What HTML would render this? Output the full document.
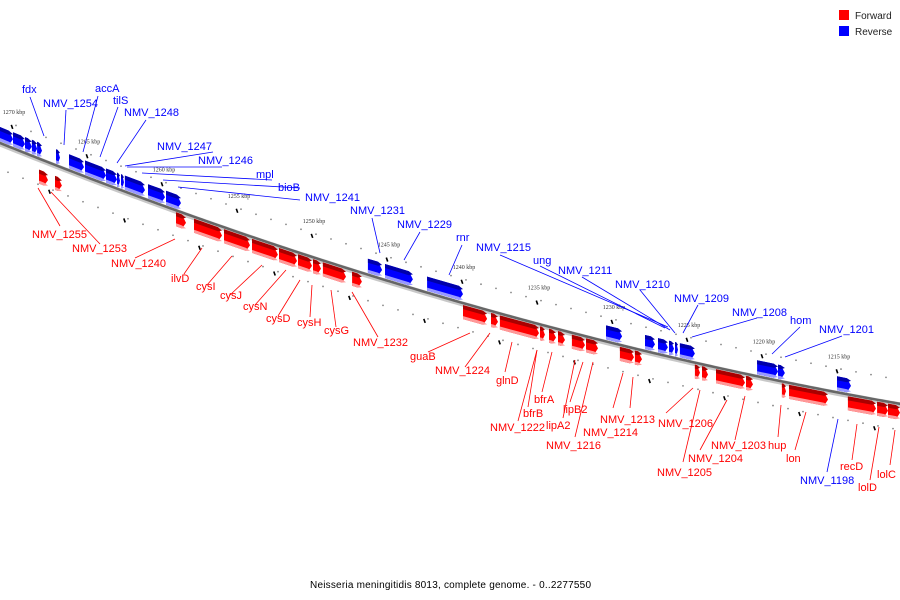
<!DOCTYPE html>
<html><head><meta charset="utf-8"><style>
body{margin:0;background:#fff}
svg{display:block;font-family:"Liberation Sans","DejaVu Sans",sans-serif}
</style></head><body>
<svg id="chart" width="900" height="600" viewBox="0 0 900 600">
<g id="backbone-layer"></g><g id="tick-layer"></g><g id="gene-layer"></g><g id="label-layer"></g>
<g>
<rect x="839" y="10" width="10" height="10" fill="#f00"/>
<text x="855" y="19" font-size="10" fill="#222">Forward</text>
<rect x="839" y="26" width="10" height="10" fill="#00f"/>
<text x="855" y="35" font-size="10" fill="#222">Reverse</text>
</g>
<text x="310" y="588" font-size="10" fill="#000" textLength="281">Neisseria meningitidis 8013, complete genome. - 0..2277550</text>
</svg>
<script>
const geneStart=[1270.80,1269.93,1269.13,1268.67,1268.33,1267.07,1266.20,1265.13,1263.73,1263.00,1262.73,1262.47,1260.93,1259.73,1246.27,1245.13,1242.33,1230.40,1227.80,1226.93,1226.20,1225.80,1225.47,1220.33,1218.93,1215.00,
1268.20,1267.13,1259.07,1257.87,1255.87,1254.00,1252.20,1250.93,1249.93,1249.27,1247.33,1239.93,1238.07,1237.47,1234.80,1234.20,1233.60,1232.67,1231.73,1229.47,1228.47,1224.47,1224.00,1223.07,1221.07,1218.67,1218.20,1214.27,1212.33,1211.60];
const geneEnd=[1269.93,1269.13,1268.67,1268.33,1268.00,1266.80,1265.20,1263.73,1263.00,1262.80,1262.53,1261.13,1259.80,1258.73,1245.33,1243.27,1239.93,1229.33,1227.13,1226.27,1225.87,1225.60,1224.47,1218.93,1218.47,1214.07,
1267.60,1266.67,1258.40,1256.00,1254.13,1252.27,1251.00,1250.00,1249.40,1247.73,1246.67,1238.33,1237.60,1234.87,1234.47,1233.73,1233.13,1231.80,1230.93,1228.53,1228.00,1224.13,1223.60,1221.13,1220.60,1218.40,1215.60,1212.40,1211.60,1210.80];
const geneStrand=["R","R","R","R","R","R","R","R","R","R","R","R","R","R","R","R","R","R","R","R","R","R","R","R","R","R",
"F","F","F","F","F","F","F","F","F","F","F","F","F","F","F","F","F","F","F","F","F","F","F","F","F","F","F","F","F","F"];
const geneTrack=[0,0,0,0,0,0,0,0,0,0,0,0,0,0,0,0,0,0,0,0,0,0,0,0,0,0,
1,1,0,0,0,0,0,0,0,0,0,0,0,0,0,0,0,0,0,0,0,0,0,0,0,0,0,0,0,0];
const tickKbp=[1270,1265,1260,1255,1250,1245,1240,1235,1230,1225,1220,1215];
const tickLabels=["1270 kbp","1265 kbp","1260 kbp","1255 kbp","1250 kbp","1245 kbp","1240 kbp","1235 kbp","1230 kbp","1225 kbp","1220 kbp","1215 kbp"];
// labels: name, strand, text x, baseline y, leader from (x,y) to (x,y)
const labelNames=["fdx","NMV_1254","accA","tilS","NMV_1248","NMV_1247","NMV_1246","mpl","bioB","NMV_1241","NMV_1231","NMV_1229","rnr","NMV_1215","ung","NMV_1211","NMV_1210","NMV_1209","NMV_1208","hom","NMV_1201",
"NMV_1255","NMV_1253","NMV_1240","ilvD","cysI","cysJ","cysN","cysD","cysH","cysG","NMV_1232","guaB","NMV_1224","glnD","bfrA","bfrB","lipB2","lipA2","NMV_1222","NMV_1216","NMV_1213","NMV_1214","NMV_1206","NMV_1205","NMV_1204","NMV_1203","hup","lon","NMV_1198","recD","lolD","lolC"];
const labelStrand=["R","R","R","R","R","R","R","R","R","R","R","R","R","R","R","R","R","R","R","R","R",
"F","F","F","F","F","F","F","F","F","F","F","F","F","F","F","F","F","F","F","F","F","F","F","F","F","F","F","F","R","F","F","F"];
const labelX=[22,43,95,113,124,157,198,256,278,305,350,397,456,476,533,558,615,674,732,790,819,
32,72,111,171,196,220,243,266,297,324,353,410,435,496,534,523,563,546,490,546,600,583,658,657,688,711,768,786,800,840,858,877];
const labelY=[93,107,92,104,116,150,164,178,191,201,214,228,241,251,264,274,288,302,316,324,333,
238,252,267,282,290,299,310,322,326,334,346,360,374,384,403,417,413,429,431,449,423,436,427,476,462,449,449,462,484,470,491,478];
const leaderA=[[30,97],[66,110],[98,96],[118,107],[146,120],[213,152],[222,167],[272,180],[300,188],[300,200],[372,218],[420,232],[462,245],[500,255],[540,266],[582,277],[640,290],[698,305],[757,318],[800,327],[842,336],
[60,226],[100,244],[135,258],[184,274],[207,285],[230,295],[255,305],[278,316],[310,317],[336,327],[378,337],[428,352],[465,367],[505,372],[542,392],[528,407],[570,402],[563,418],[518,421],[575,437],[613,408],[630,408],[666,413],[683,462],[700,450],[735,440],[778,437],[795,450],[827,472],[852,460],[870,480],[890,465]];
const leaderB=[[44,136],[64,145],[83,152],[100,157],[117,163],[125,166],[127,167],[142,173],[163,180],[178,187],[380,253],[404,260],[449,275],[668,327],[665,328],[670,330],[675,333],[683,333],[692,337],[772,354],[785,357],
[38,188],[51,192],[175,239],[202,248],[232,256],[262,265],[286,270],[300,280],[312,285],[331,290],[352,292],[470,333],[490,333],[512,342],[552,352],[537,350],[583,362],[575,360],[537,350],[593,362],[623,373],[633,377],[693,388],[700,390],[727,400],[745,396],[781,405],[806,412],[838,419],[857,424],[879,427],[895,430]];

const NS="http://www.w3.org/2000/svg";
function X(k){return (1270.8-k)*15;}
function L(x){return 143+0.405*x-0.000128*x*x;}
function mk(tag,attrs,parent){const e=document.createElementNS(NS,tag);for(const k in attrs)e.setAttribute(k,attrs[k]);parent.appendChild(e);return e;}
const bb=document.getElementById('backbone-layer');
let d="";for(let x=-2;x<=902;x+=4){d+=(x===-2?"M":"L")+x+","+L(x).toFixed(2);}
const p2=mk('path',{d:d,fill:'none',stroke:'#c8c8c8','stroke-width':5,transform:'translate(0,1)'},bb);


const p1=mk('path',{d:d,fill:'none',stroke:'#666','stroke-width':2.5},bb);



const tl=document.getElementById('tick-layer');
for(let k=1271;k>=1210;k--){
  const x=X(k);if(x<0||x>900)continue;
  const c1=mk('circle',{cx:x+4,cy:L(x+4)-24,r:0.9,fill:'#888'},tl);
  
  
  const c2=mk('circle',{cx:x-4,cy:L(x-4)+26,r:0.9,fill:'#888'},tl);
  
  
}
for(let i=0;i<tickKbp.length;i++){
  const x=X(tickKbp[i]);const y=L(x);
  const m=mk('line',{x1:x-0.7,y1:y-23,x2:x+0.7,y2:y-19,stroke:'#000','stroke-width':1.6},tl);
  
  
  const xb=X(tickKbp[i]-2.5);const yb=L(xb);
  const m2=mk('line',{x1:xb-0.7,y1:yb+27,x2:xb+0.7,y2:yb+31,stroke:'#000','stroke-width':1.6},tl);
  
  
  const t=mk('text',{x:x+2,y:y-34,'font-size':6,'text-anchor':'middle',fill:'#333','font-family':'"Liberation Serif",serif'},tl);
  t.textContent=tickLabels[i];
  
  
}

const gl=document.getElementById('gene-layer');
for(let i=0;i<geneStart.length;i++){
  const x1=Math.max(X(geneStart[i]),-1),x2=X(geneEnd[i]);
  const fwd=geneStrand[i]==="F";
  const off=fwd?(2+geneTrack[i]*9):-16;
  const h=14;
  const tip=Math.min(4,(x2-x1)*0.6);
  const xs=x2-tip;
  const t1=L(x1)+off,ts=L(xs)+off,tt=L(x2)+off+h/2;
  const poly=(a,b)=>[[x1,t1+a],[xs,ts+a],[x2,tt+(a+b)/2-h/2],[xs,ts+b],[x1,t1+b]].map(p=>p[0].toFixed(1)+","+p[1].toFixed(1)).join(" ");
  const g=mk('g',{},gl);
  
  
  mk('polygon',{points:poly(0,h),fill:fwd?'#f00':'#00f'},g);
  mk('polygon',{points:poly(0,4),fill:fwd?'#a00':'#00a'},g);
  mk('polygon',{points:poly(h-3,h),fill:fwd?'#f99':'#99f'},g);
}

const ll=document.getElementById('label-layer');
for(let i=0;i<labelNames.length;i++){
  const col=labelStrand[i]==="F"?'#f00':'#00f';
  const ln=mk('line',{x1:leaderA[i][0],y1:leaderA[i][1],x2:leaderB[i][0],y2:leaderB[i][1],stroke:col,'stroke-width':0.8},ll);
  
  
  const t=mk('text',{x:labelX[i],y:labelY[i],'font-size':11,fill:col},ll);
  t.textContent=labelNames[i];
  
  
}
</script>
</body></html>
